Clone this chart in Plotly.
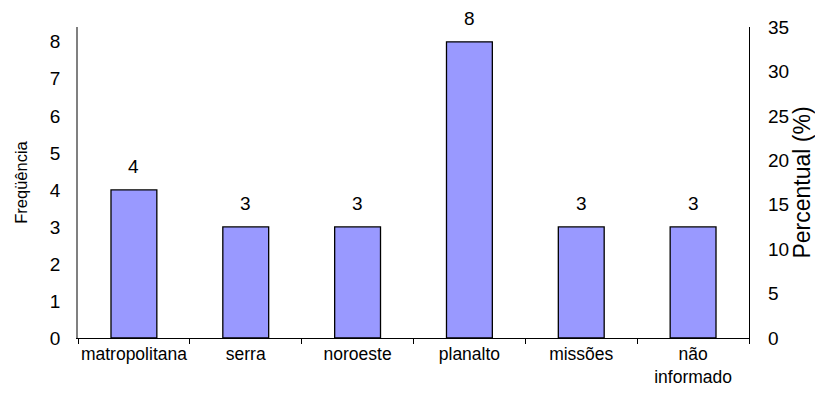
import plotly.graph_objects as go

categories = ["matropolitana", "serra", "noroeste", "planalto", "missões", "não<br>informado"]
frequencia = [4, 3, 3, 8, 3, 3]
total = sum(frequencia)
percentual = [v / total * 100 for v in frequencia]

FONT = "Liberation Sans, Arial, sans-serif"

fig = go.Figure()
fig.add_trace(go.Bar(
    x=categories, y=frequencia, width=0.41,
    marker=dict(color="#9999FF", line=dict(color="black", width=1.3)),
    hoverinfo="skip",
))
fig.add_trace(go.Scatter(
    x=categories, y=percentual, yaxis="y2", mode="markers",
    marker=dict(opacity=0), hoverinfo="skip", showlegend=False,
))

for c, v in zip(categories, frequencia):
    fig.add_annotation(x=c, y=v, text=str(v), showarrow=False,
                       yanchor="bottom", yshift=11,
                       font=dict(family=FONT, size=19, color="black"))

# the page body adds an 8px offset, so the figure is 8px smaller than the window
fig.update_layout(
    width=815, height=394,
    margin=dict(l=70, r=74, t=19, b=64),
    paper_bgcolor="white", plot_bgcolor="white",
    showlegend=False,
    font=dict(family=FONT, color="black"),
    xaxis=dict(
        type="category", showline=True, linecolor="black", linewidth=1.3,
        ticks="outside", tickson="boundaries", ticklen=5, tickcolor="black",
        tickangle=0, tickfont=dict(size=17.5), showgrid=False, automargin=False,
    ),
    yaxis=dict(
        range=[0, 8.4], tickvals=list(range(0, 9)), showgrid=False, zeroline=False,
        showline=True, linecolor="#808080", linewidth=1.5,
        ticks="outside", ticklen=12, tickcolor="rgba(0,0,0,0)",
        tickfont=dict(size=19), automargin=False,
        title=dict(text="Freqüência", font=dict(size=16.5), standoff=18),
    ),
    yaxis2=dict(
        overlaying="y", side="right", range=[0, 35], tickvals=list(range(0, 36, 5)),
        showgrid=False, zeroline=False, showline=True, linecolor="black", linewidth=1.3,
        ticks="outside", ticklen=14, tickcolor="rgba(0,0,0,0)",
        tickfont=dict(size=19), automargin=False,
        title=dict(text="Percentual (%)", font=dict(size=23), standoff=5),
    ),
)

fig.write_html("out.html")
